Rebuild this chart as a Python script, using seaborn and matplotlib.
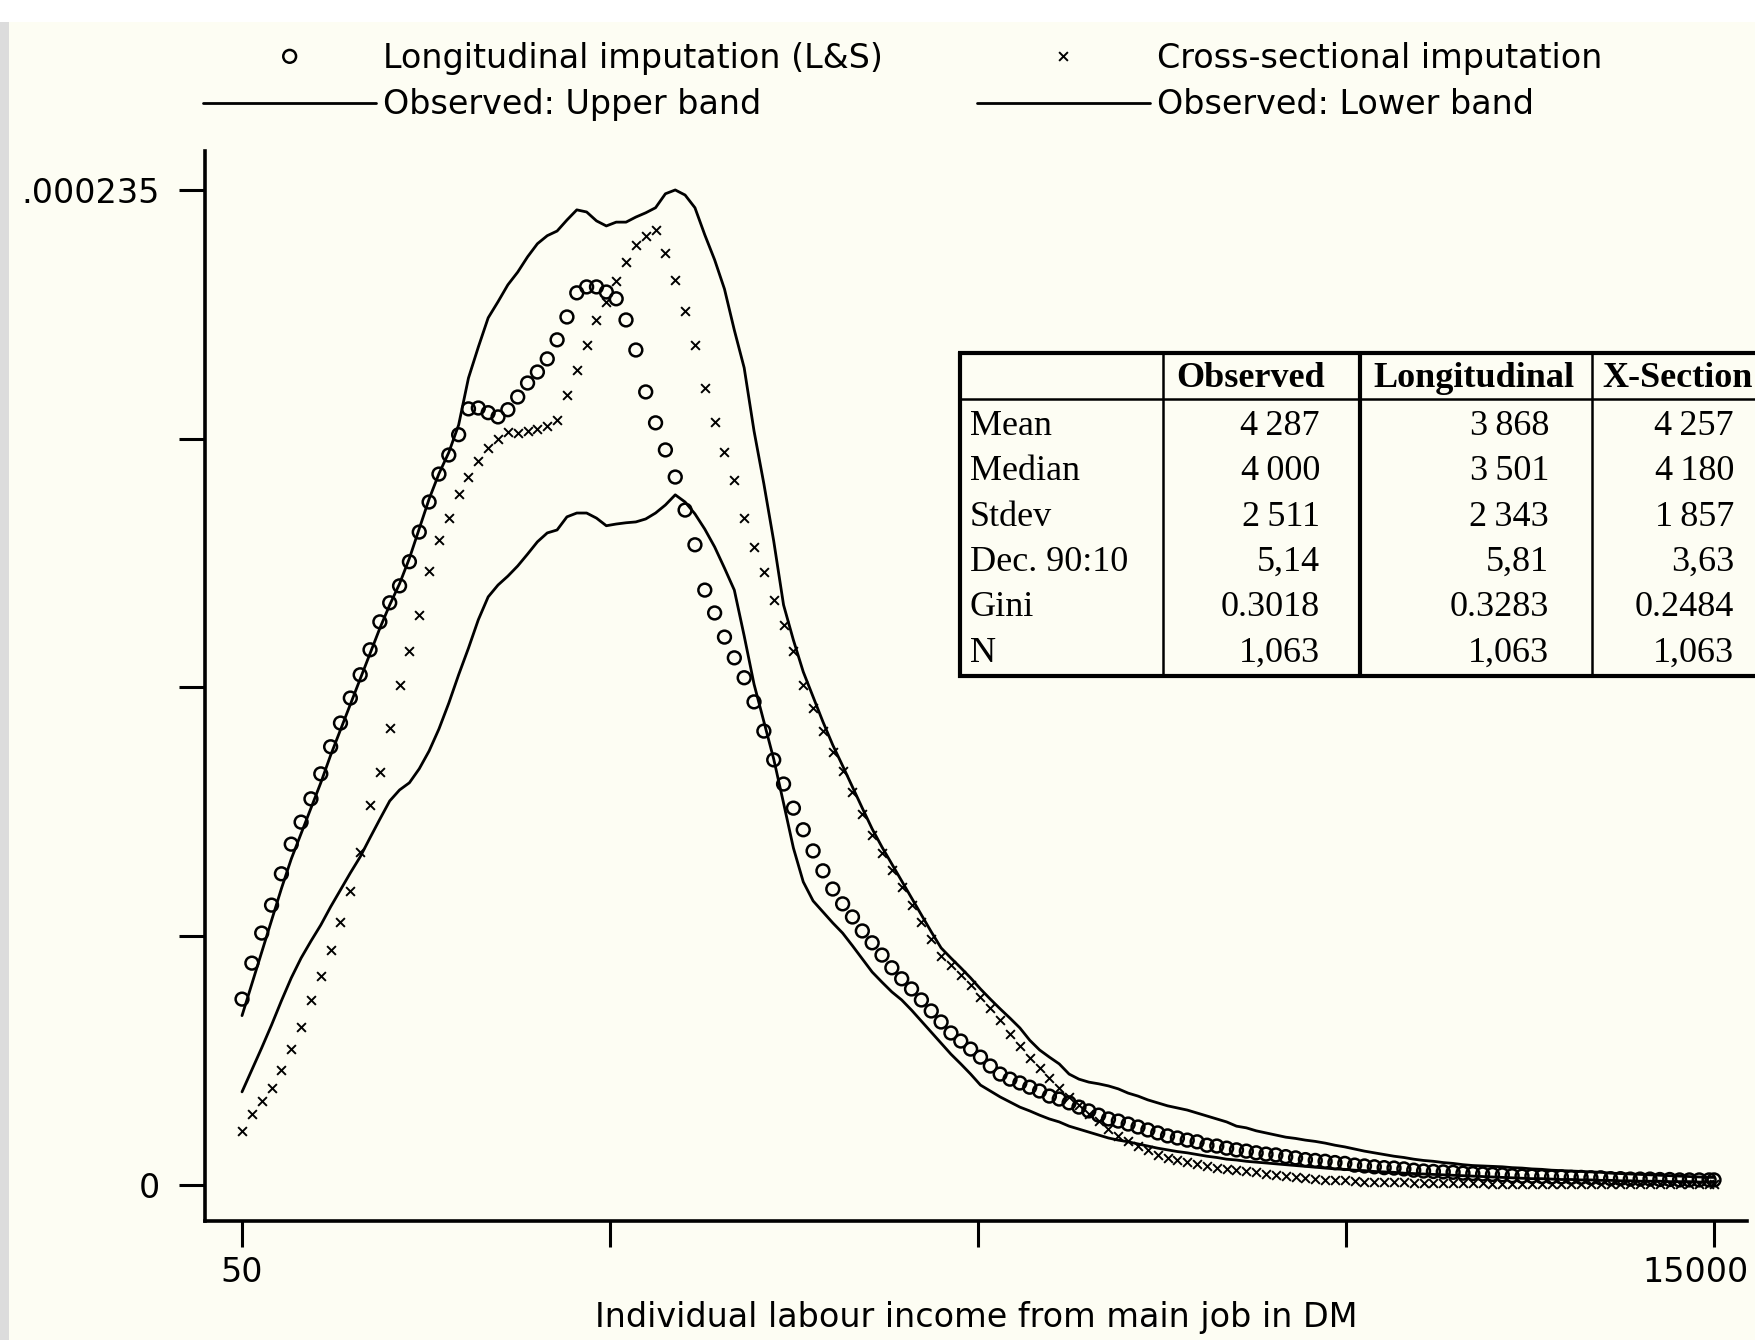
import matplotlib
matplotlib.use('Agg')

import numpy as np
import pandas as pd
import matplotlib.pyplot as plt
from matplotlib.lines import Line2D
from matplotlib.patches import Rectangle
import seaborn as sns

# ---------------------------------------------------------------
# Kernel density estimates
# (density values in units of 1e-6, evaluated on an income grid in DM)
# ---------------------------------------------------------------
income = [
    50, 150, 250, 350, 450, 550, 650, 750, 850, 950,
    1050, 1150, 1250, 1350, 1450, 1550, 1650, 1750, 1850, 1950,
    2050, 2150, 2250, 2350, 2450, 2550, 2650, 2750, 2850, 2950,
    3050, 3150, 3250, 3350, 3450, 3550, 3650, 3750, 3850, 3950,
    4050, 4150, 4250, 4350, 4450, 4550, 4650, 4750, 4850, 4950,
    5050, 5150, 5250, 5350, 5450, 5550, 5650, 5750, 5850, 5950,
    6050, 6150, 6250, 6350, 6450, 6550, 6650, 6750, 6850, 6950,
    7050, 7150, 7250, 7350, 7450, 7550, 7650, 7750, 7850, 7950,
    8050, 8150, 8250, 8350, 8450, 8550, 8650, 8750, 8850, 8950,
    9050, 9150, 9250, 9350, 9450, 9550, 9650, 9750, 9850, 9950,
    10050, 10150, 10250, 10350, 10450, 10550, 10650, 10750, 10850, 10950,
    11050, 11150, 11250, 11350, 11450, 11550, 11650, 11750, 11850, 11950,
    12050, 12150, 12250, 12350, 12450, 12550, 12650, 12750, 12850, 12950,
    13050, 13150, 13250, 13350, 13450, 13550, 13650, 13750, 13850, 13950,
    14050, 14150, 14250, 14350, 14450, 14550, 14650, 14750, 14850, 14950,
    15000,
]

longitudinal = [
    43.9, 52.4, 59.5, 66.1, 73.5, 80.5, 85.7, 91.2, 97.1, 103.5,
    109.1, 115.0, 120.5, 126.4, 133.0, 137.5, 141.5, 147.2, 154.2, 161.3,
    167.9, 172.4, 177.2, 183.3, 183.5, 182.4, 181.4, 183.1, 186.1, 189.4,
    192.0, 195.1, 199.6, 205.0, 210.7, 212.1, 212.1, 210.9, 209.3, 204.3,
    197.2, 187.3, 180.0, 173.6, 167.2, 159.4, 151.2, 140.5, 135.1, 129.4,
    124.5, 119.8, 114.1, 107.2, 100.4, 94.7, 89.0, 83.9, 78.9, 74.2,
    69.9, 66.4, 63.3, 60.0, 57.2, 54.3, 51.3, 48.7, 46.3, 43.7,
    41.1, 38.5, 35.9, 34.0, 32.1, 30.2, 28.1, 26.2, 25.0, 24.1,
    23.1, 22.2, 21.0, 20.3, 19.4, 18.4, 17.5, 16.5, 15.6, 15.1,
    14.4, 13.7, 13.0, 12.3, 11.6, 11.1, 10.6, 10.2, 9.4, 9.2,
    8.7, 8.3, 8.0, 7.6, 7.3, 7.1, 6.7, 6.4, 6.0, 5.8,
    5.6, 5.3, 5.1, 4.7, 4.5, 4.3, 4.1, 4.0, 3.8, 3.5,
    3.3, 3.2, 3.1, 3.0, 2.8, 2.7, 2.6, 2.5, 2.4, 2.2,
    2.1, 2.1, 2.0, 1.9, 1.9, 1.8, 1.8, 1.7, 1.7, 1.5,
    1.5, 1.4, 1.4, 1.4, 1.3, 1.3, 1.2, 1.2, 1.2, 1.2,
    1.2,
]

cross_section = [
    12.8, 16.8, 19.8, 22.9, 27.2, 32.1, 37.3, 43.7, 49.4, 55.5,
    62.1, 69.4, 78.7, 89.8, 97.6, 107.9, 118.0, 126.0, 134.6, 145.0,
    152.3, 157.5, 163.2, 167.2, 171.0, 174.1, 176.2, 177.9, 177.6, 178.1,
    178.6, 179.3, 180.7, 186.6, 192.5, 198.4, 204.3, 208.6, 213.5, 218.0,
    222.0, 224.2, 225.6, 220.1, 213.8, 206.4, 198.4, 188.3, 180.2, 173.1,
    166.5, 157.5, 150.7, 144.8, 138.2, 132.3, 126.1, 118.1, 112.7, 107.2,
    102.3, 97.8, 92.8, 87.6, 82.7, 78.4, 74.4, 70.4, 66.1, 62.1,
    58.1, 54.1, 52.0, 49.6, 47.2, 44.4, 41.8, 39.0, 35.7, 32.8,
    30.0, 27.6, 25.3, 22.9, 20.8, 18.9, 16.8, 15.1, 13.2, 11.6,
    10.4, 9.2, 8.3, 7.1, 6.4, 5.9, 5.4, 5.0, 4.5, 4.0,
    3.8, 3.5, 3.3, 3.0, 2.6, 2.4, 2.1, 1.9, 1.7, 1.4,
    1.3, 1.2, 1.1, 0.9, 0.8, 0.7, 0.7, 0.6, 0.6, 0.5,
    0.5, 0.5, 0.4, 0.4, 0.4, 0.4, 0.4, 0.3, 0.3, 0.3,
    0.3, 0.3, 0.3, 0.3, 0.3, 0.2, 0.2, 0.2, 0.2, 0.2,
    0.2, 0.2, 0.2, 0.2, 0.2, 0.2, 0.2, 0.2, 0.2, 0.2,
    0.2,
]

upper_band = [
    40.0, 47.5, 55.0, 62.5, 70.0, 77.0, 83.0, 89.0, 95.0, 101.5,
    107.5, 113.5, 119.5, 125.5, 131.5, 137.0, 142.0, 148.0, 155.0, 162.0,
    168.0, 173.0, 179.5, 190.6, 197.9, 204.8, 208.6, 212.6, 215.6, 219.2,
    222.3, 224.2, 225.3, 227.9, 230.3, 229.8, 227.7, 226.5, 227.4, 227.4,
    228.6, 229.6, 230.8, 234.1, 235.0, 233.8, 230.8, 224.4, 218.5, 211.6,
    201.9, 193.0, 178.1, 165.6, 152.1, 137.0, 128.7, 121.2, 115.3, 109.4,
    103.9, 99.0, 94.0, 89.0, 84.1, 79.8, 75.8, 71.8, 67.8, 63.8,
    59.8, 56.0, 53.6, 51.3, 48.9, 46.3, 43.9, 41.6, 39.4, 37.1,
    34.2, 31.9, 30.2, 28.6, 26.2, 25.0, 24.3, 23.9, 23.4, 22.7,
    21.7, 21.0, 20.1, 19.4, 18.7, 18.2, 17.7, 17.0, 16.3, 15.6,
    14.9, 13.9, 13.5, 12.8, 12.3, 11.8, 11.3, 11.0, 10.6, 10.3,
    9.9, 9.4, 9.0, 8.5, 8.0, 7.6, 7.2, 6.8, 6.5, 6.1,
    5.8, 5.6, 5.3, 5.1, 4.8, 4.6, 4.5, 4.4, 4.3, 4.1,
    4.0, 3.8, 3.7, 3.5, 3.4, 3.3, 3.2, 3.1, 3.0, 2.8,
    2.7, 2.6, 2.5, 2.4, 2.3, 2.2, 2.1, 2.0, 1.9, 1.8,
    1.8,
]

lower_band = [
    22.0, 27.2, 32.4, 37.8, 43.5, 48.9, 53.6, 57.6, 61.4, 65.7,
    69.7, 73.7, 77.5, 82.0, 86.4, 90.7, 93.3, 95.0, 98.3, 102.5,
    107.7, 113.8, 120.5, 126.8, 133.5, 138.9, 141.7, 143.8, 146.2, 149.0,
    151.9, 154.0, 154.7, 157.8, 158.7, 158.7, 157.5, 155.7, 156.1, 156.4,
    156.6, 157.3, 158.7, 160.6, 163.0, 161.3, 158.5, 154.9, 150.7, 145.7,
    140.5, 129.7, 118.3, 109.4, 100.6, 90.2, 79.6, 71.6, 67.1, 64.5,
    61.9, 59.5, 56.5, 53.4, 50.3, 47.9, 45.6, 43.7, 41.3, 38.7,
    36.1, 33.5, 30.9, 28.6, 26.2, 23.6, 22.2, 20.8, 19.6, 18.4,
    17.5, 16.5, 15.6, 14.9, 13.9, 13.2, 12.5, 11.8, 11.1, 10.6,
    10.2, 9.7, 9.2, 8.7, 8.3, 7.9, 7.6, 7.2, 6.8, 6.5,
    6.1, 5.9, 5.6, 5.4, 5.2, 5.0, 4.8, 4.6, 4.4, 4.2,
    4.0, 3.8, 3.7, 3.5, 3.4, 3.2, 3.1, 3.0, 2.8, 2.7,
    2.6, 2.5, 2.4, 2.3, 2.2, 2.1, 2.0, 1.9, 1.8, 1.7,
    1.6, 1.5, 1.5, 1.4, 1.3, 1.3, 1.2, 1.2, 1.1, 1.1,
    1.0, 1.0, 0.9, 0.9, 0.9, 0.8, 0.8, 0.8, 0.7, 0.7,
    0.7,
]

# summary table
stat_names = ["Mean", "Median", "Stdev", "Dec. 90:10", "Gini", "N"]
table_cols = ["Observed", "Longitudinal", "X-Section"]
stats_observed = ["4\u2009287", "4\u2009000", "2\u2009511", "5,14", "0.3018", "1,063"]
stats_longit = ["3\u2009868", "3\u2009501", "2\u2009343", "5,81", "0.3283", "1,063"]
stats_xsect = ["4\u2009257", "4\u2009180", "1\u2009857", "3,63", "0.2484", "1,063"]

x_ticks = [50, 3787.5, 7525, 11262.5, 15000]
x_ticklabels = ["50", "", "", "", ""]
x_last_label = "15000"
y_ticks = [0, 58.75e-6, 117.5e-6, 176.25e-6, 235e-6]
y_ticklabels = ["0", "", "", "", ".000235"]

df = pd.DataFrame({
    "income": income,
    "longitudinal": np.array(longitudinal) * 1e-6,
    "cross_section": np.array(cross_section) * 1e-6,
    "upper": np.array(upper_band) * 1e-6,
    "lower": np.array(lower_band) * 1e-6,
})

# ---------------------------------------------------------------
# figure
# ---------------------------------------------------------------
sns.set_style("ticks")
plt.rcParams["font.family"] = ["DejaVu Sans"]
plt.rcParams.update({
    "text.color": "black", "axes.labelcolor": "black",
    "xtick.color": "black", "ytick.color": "black", "axes.edgecolor": "black",
})

W, H = 1756, 1340
BG = "#FDFDF3"
FS = 24


def fx(px):
    return px / W


def fy(py):
    return 1 - py / H


fig = plt.figure(figsize=(W / 100, H / 100), dpi=100, facecolor="white")
fig.patches.append(Rectangle((fx(9), 0), 1, fy(22), transform=fig.transFigure,
                             facecolor=BG, edgecolor="none", zorder=-10))
fig.patches.append(Rectangle((0, 0), fx(9), fy(22), transform=fig.transFigure,
                             facecolor="#DCDCDC", edgecolor="none", zorder=-10))

ax = fig.add_axes([fx(205), fy(1221), fx(1747) - fx(205), fy(151) - fy(1221)])
ax.set_facecolor("none")

sns.lineplot(data=df, x="income", y="upper", color="black", lw=2.0, ax=ax,
             label="Observed: Upper band", zorder=2)
sns.lineplot(data=df, x="income", y="lower", color="black", lw=2.0, ax=ax,
             label="Observed: Lower band", zorder=2)
sns.scatterplot(data=df, x="income", y="longitudinal", marker="o", s=85,
                facecolor="none", edgecolor="black", linewidth=1.8, ax=ax,
                label="Longitudinal imputation (L&S)", zorder=3)
sns.scatterplot(data=df, x="income", y="cross_section", marker="x", s=40,
                color="black", linewidth=1.4, ax=ax,
                label="Cross-sectional imputation", zorder=3)

handles, labels = ax.get_legend_handles_labels()
if ax.get_legend() is not None:
    ax.get_legend().remove()
lookup = dict(zip(labels, handles))
order = ["Longitudinal imputation (L&S)", "Observed: Upper band",
         "Cross-sectional imputation", "Observed: Lower band"]
fig.legend([lookup[k] for k in order], order, loc="upper left",
           bbox_to_anchor=(fx(203), fy(42)), ncol=2, frameon=False, fontsize=FS,
           handlelength=5.2, handletextpad=0.21, columnspacing=2.8,
           labelspacing=0.4, borderpad=0, borderaxespad=0,
           scatterpoints=1, scatteryoffsets=[0.5])

ax.set_xlim(-326, 15335)
ax.set_ylim(-8.5e-6, 244.2e-6)
ax.set_xticks(x_ticks)
ax.set_xticklabels(x_ticklabels)
ax.set_yticks(y_ticks)
ax.set_yticklabels(y_ticklabels)
ax.tick_params(axis="x", direction="out", length=18.5, width=2.2,
               labelsize=FS, color="black", pad=6.5)
ax.tick_params(axis="y", direction="out", length=18.5, width=2.2,
               labelsize=FS, color="black", pad=14)
sns.despine(ax=ax)
for side in ["left", "bottom"]:
    ax.spines[side].set_linewidth(2.6)
ax.set_ylabel("")
ax.set_xlabel("Individual labour income from main job in DM", fontsize=FS, labelpad=9)

# right-most tick label, pulled left so it stays inside the figure
ax.annotate(x_last_label, xy=(x_ticks[-1], 0), xycoords=ax.get_xaxis_transform(),
            xytext=(-19, -35), textcoords="offset pixels",
            ha="center", va="top", fontsize=FS)

# ---------------------------------------------------------------
# summary table
# ---------------------------------------------------------------
serif = ["Liberation Serif", "DejaVu Serif"]
TFS = 26


def hline(y, x0, x1, lw):
    fig.add_artist(Line2D([fx(x0), fx(x1)], [fy(y), fy(y)], transform=fig.transFigure,
                          color="black", lw=lw, solid_capstyle="butt"))


def vline(x, y0, y1, lw):
    fig.add_artist(Line2D([fx(x), fx(x)], [fy(y0), fy(y1)], transform=fig.transFigure,
                          color="black", lw=lw, solid_capstyle="butt"))


hline(353.5, 958, W, 3.0)
hline(675.5, 958, W, 3.0)
hline(398.5, 960, W, 1.8)
vline(960, 351.5, 677.5, 3.0)
vline(1163, 353, 676, 1.8)
vline(1360, 353, 676, 3.0)
vline(1592, 353, 676, 1.8)

fig.text(fx(1251), fy(387), table_cols[0], ha="center", va="baseline",
         fontsize=26, fontweight="bold", family=serif)
fig.text(fx(1474), fy(387), table_cols[1], ha="center", va="baseline",
         fontsize=26, fontweight="bold", family=serif)
fig.text(fx(1602), fy(387), table_cols[2], ha="left", va="baseline",
         fontsize=26, fontweight="bold", family=serif)

for i, name in enumerate(stat_names):
    base = 435 + 45.3 * i
    fig.text(fx(970), fy(base), name, ha="left", va="baseline", fontsize=TFS, family=serif)
    fig.text(fx(1320), fy(base), stats_observed[i], ha="right", va="baseline",
             fontsize=TFS, family=serif)
    fig.text(fx(1549), fy(base), stats_longit[i], ha="right", va="baseline",
             fontsize=TFS, family=serif)
    fig.text(fx(1734), fy(base), stats_xsect[i], ha="right", va="baseline",
             fontsize=TFS, family=serif)

fig.savefig("out.png", dpi=100, facecolor=fig.get_facecolor())
